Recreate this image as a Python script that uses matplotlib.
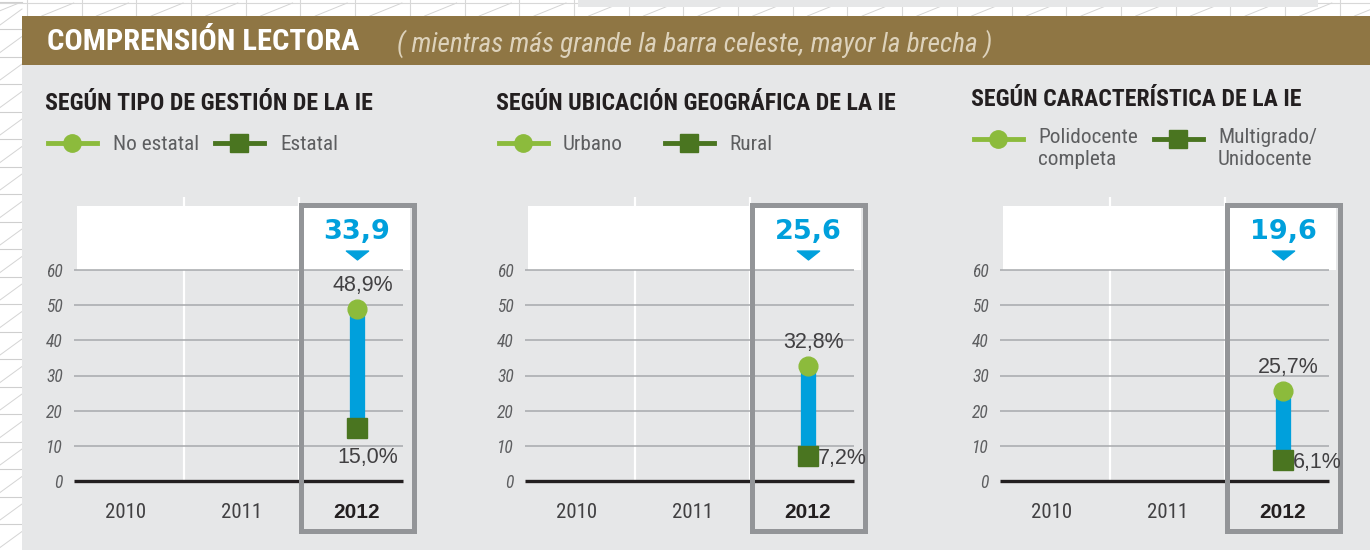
import matplotlib
matplotlib.use('Agg')
import matplotlib.pyplot as plt
from matplotlib.patches import Rectangle
from matplotlib.lines import Line2D
from matplotlib.path import Path
from matplotlib import font_manager as fm

# ---------------- data ----------------
years = ['2010', '2011', '2012']
header_title = 'COMPRENSIÓN LECTORA'
header_sub = '( mientras más grande la barra celeste, mayor la brecha )'
panel_titles = ['SEGÚN TIPO DE GESTIÓN DE LA IE',
                'SEGÚN UBICACIÓN GEOGRÁFICA DE LA IE',
                'SEGÚN CARACTERÍSTICA DE LA IE']
high_names = ['No estatal', 'Urbano', 'Polidocente\ncompleta']
low_names = ['Estatal', 'Rural', 'Multigrado/\nUnidocente']
high_2012 = [48.9, 32.8, 25.7]
low_2012 = [15.0, 7.2, 6.1]
gap_2012 = [33.9, 25.6, 19.6]
yticks = [0, 10, 20, 30, 40, 50, 60]

# ---------------- fonts ----------------
_entries = fm.fontManager.ttflist
_names = {f.name for f in _entries}
_dejavu_cond = any(f.name == 'DejaVu Sans' and 'Condensed' in f.fname for f in _entries)
if 'Roboto Condensed' in _names:
    NARROW = dict(family=['Roboto Condensed', 'DejaVu Sans'])
    NSCALE = 0.97
elif 'Liberation Sans Narrow' in _names:
    NARROW = dict(family=['Liberation Sans Narrow', 'DejaVu Sans'])
    NSCALE = 1.0
elif _dejavu_cond:
    NARROW = dict(family=['DejaVu Sans'], stretch='condensed')
    NSCALE = 0.86
else:
    NARROW = dict(family=['Liberation Sans', 'DejaVu Sans'])
    NSCALE = 0.84


def nfont(size, **kw):
    d = dict(NARROW)
    d['fontsize'] = size * NSCALE
    d.update(kw)
    return d


def nprops(size, **kw):
    d = {('size' if k == 'fontsize' else k): v for k, v in nfont(size).items()}
    d.update(kw)
    return fm.FontProperties(**d)


SANS = ['Liberation Sans', 'DejaVu Sans']

# ---------------- style ----------------
W, H = 1370, 550
C_BG = '#e6e7e8'
C_BROWN = '#8f7644'
C_BLUE = '#00a0dc'
C_LGREEN = '#8cbb3c'
C_DGREEN = '#4a7520'
C_TXT = '#231f20'
C_GRAY = '#5d5e60'
C_GRID = '#a7a9ac'
C_FRAME = '#939598'

fig = plt.figure(figsize=(W / 100, H / 100), dpi=100)
bg = fig.add_axes([0, 0, 1, 1])
bg.set_xlim(0, W)
bg.set_ylim(H, 0)
bg.axis('off')

# background paper pattern
bg.add_patch(Rectangle((0, 0), W, H, facecolor='white', edgecolor='none', zorder=0))
bg.add_patch(Rectangle((578, 0), 1318 - 578, 7, facecolor=C_BG, edgecolor='none', zorder=0.5))
bg.plot([0, W], [2.5, 2.5], color='#d8d8d8', lw=0.8, zorder=0.4)
xs = [27 + 54.7 * k for k in range(26)]
for x in xs:
    bg.plot([x, x], [0, 16], color='#d8d8d8', lw=0.8, zorder=0.4)
    bg.plot([x - 40, x - 8], [16, 3], color='#d4d4d4', lw=0.7, zorder=0.4)
ys = [84 + 27.5 * k for k in range(-3, 18)]
for y in ys:
    bg.plot([0, 22], [y, y], color='#cfcfcf', lw=0.8, zorder=0.4)
    bg.plot([0, 22], [y - 4, y - 20], color='#d4d4d4', lw=0.7, zorder=0.4)

bg.add_patch(Rectangle((22, 16), W - 22, H - 16, facecolor=C_BG, edgecolor='none', zorder=1))
bg.add_patch(Rectangle((22, 16), W - 22, 49, facecolor=C_BROWN, edgecolor='none', zorder=2))
bg.text(47, 42, header_title, color='white', fontweight='bold',
        va='center', ha='left', zorder=3, **nfont(22.6))
bg.text(397, 44, header_sub, color='#ddd2bb', style='italic',
        va='center', ha='left', zorder=3, **nfont(20.2))

offsets = [0, 451, 926]
title_y = [103, 103, 99]
legend_y = [143, 143, 139]
legend_layout = [  # (circle line x0, text x, square line x0, text x)
    (48, 113, 215, 280),
    (499, 563, 665, 729),
    (974, 1038, 1154, 1218),
]
for i in range(3):
    dx = offsets[i]
    bg.text(45 + dx, title_y[i], panel_titles[i], color=C_TXT,
            fontweight='bold', va='center', ha='left', zorder=3, **nfont(17.6))
    ly = legend_y[i]
    cx0, ctx, sx0, stx = legend_layout[i]
    bg.add_line(Line2D([cx0, cx0 + 49], [ly, ly], color=C_LGREEN, lw=3.5, zorder=3))
    bg.add_line(Line2D([cx0 + 24.5], [ly], marker='o', ms=12.5, color=C_LGREEN,
                       lw=0, zorder=4))
    bg.add_line(Line2D([sx0, sx0 + 49], [ly, ly], color=C_DGREEN, lw=3.5, zorder=3))
    bg.add_line(Line2D([sx0 + 24.5], [ly], marker='s', ms=13, color=C_DGREEN,
                       lw=0, zorder=4))
    nl = high_names[i].count('\n')
    ty = (ly + 9.5) if nl else (ly + 1)
    bg.text(ctx, ty, high_names[i], color=C_GRAY, va='center', ha='left',
            linespacing=1.22, zorder=3, **nfont(15.8))
    bg.text(stx, ty, low_names[i], color=C_GRAY, va='center', ha='left',
            linespacing=1.22, zorder=3, **nfont(15.8))

# ---------------- data panels ----------------
PX_X = 115.5      # pixels per category
PX_Y = 211 / 60   # pixels per unit
Y0 = 481          # pixel row of value 0
X2010 = 126       # pixel column of first category (panel 1)
AX_L, AX_R, AX_T = 74, 403, 196
tri = Path([(-1, 0.4), (1, 0.4), (0, -0.4), (-1, 0.4)],
           [Path.MOVETO, Path.LINETO, Path.LINETO, Path.CLOSEPOLY])
low_label_side = ['below', 'right', 'right']


def px2x(p):
    return (p - X2010) / PX_X


def fmt(v):
    return f'{v:.1f}'.replace('.', ',')


for i in range(3):
    dx = offsets[i]
    ax = fig.add_axes([(AX_L + dx) / W, (H - Y0) / H, (AX_R - AX_L) / W, (Y0 - AX_T) / H])
    ax.set_zorder(5)
    ax.patch.set_visible(False)
    ax.set_xlim(px2x(AX_L), px2x(AX_R))
    ax.set_ylim(0, (Y0 - AX_T) / PX_Y)
    for s in ax.spines.values():
        s.set_visible(False)

    # white header box above the plot
    ax.add_patch(Rectangle((px2x(77), 60), px2x(410) - px2x(77), 18.2,
                           facecolor='white', edgecolor='none', zorder=0.5,
                           clip_on=False))
    # column separators
    ax.vlines([0.5, 1.5], 0, 80.7, color='white', lw=1.6, zorder=0.6)
    # grid
    x0, x1 = ax.get_xlim()
    ax.hlines(yticks[1:], x0, x1, color=C_GRID, lw=1.1, zorder=1)
    ax.hlines(0, x0, x1, color=C_TXT, lw=2.4, zorder=2, clip_on=False)

    ax.set_yticks(yticks)
    ax.set_yticklabels([str(v) for v in yticks])
    for t in ax.get_yticklabels():
        t.set_fontproperties(nprops(13, style='italic'))
        t.set_color(C_GRAY)
    ax.set_xticks(range(len(years)))
    ax.set_xticklabels(years)
    xl = ax.get_xticklabels()
    for t in xl[:-1]:
        t.set_fontproperties(nprops(15.5))
        t.set_color('#414042')
    xl[-1].set_fontproperties(fm.FontProperties(family=SANS, weight='bold', size=15))
    xl[-1].set_color(C_TXT)
    ax.tick_params(axis='both', length=0)
    ax.tick_params(axis='y', pad=8)
    ax.tick_params(axis='x', pad=16)

    # highlight frame around 2012
    fy0 = -(531 - Y0) / PX_Y
    fy1 = (Y0 - 205) / PX_Y
    ax.add_patch(Rectangle((px2x(301), fy0), px2x(413.5) - px2x(301), fy1 - fy0,
                           facecolor='none', edgecolor=C_FRAME, lw=3.6,
                           zorder=3, clip_on=False))

    xi = 2
    hi, lo, gap = high_2012[i], low_2012[i], gap_2012[i]
    ax.vlines(xi, lo, hi, color=C_BLUE, lw=11, zorder=4, capstyle='butt')
    ax.plot([xi], [hi], marker='o', ms=13.5, color=C_LGREEN, lw=0, zorder=6,
            clip_on=False)
    ax.plot([xi], [lo], marker='s', ms=14.2, color=C_DGREEN, lw=0, zorder=5,
            clip_on=False)

    ax.annotate(fmt(gap), (xi, (Y0 - 232) / PX_Y), ha='center', va='center',
                fontsize=19.5, fontweight='bold', family=['DejaVu Sans'],
                color=C_BLUE, zorder=7, annotation_clip=False)
    ax.plot([xi], [(Y0 - 255) / PX_Y], marker=tri, ms=16, color=C_BLUE, lw=0,
            zorder=7, clip_on=False)
    ax.annotate(fmt(hi) + '%', (xi, hi), xytext=(4, 17), textcoords='offset points',
                ha='center', va='center', fontsize=15.5, family=SANS,
                color='#414042', zorder=7, annotation_clip=False)
    if low_label_side[i] == 'below':
        ax.annotate(fmt(lo) + '%', (xi, lo), xytext=(8, -21), textcoords='offset points',
                    ha='center', va='center', fontsize=15.5, family=SANS,
                    color='#414042', zorder=7, annotation_clip=False)
    else:
        ax.annotate(fmt(lo) + '%', (xi, lo), xytext=(7, -2), textcoords='offset points',
                    ha='left', va='center', fontsize=15.5, family=SANS,
                    color='#414042', zorder=7, annotation_clip=False)

fig.savefig('out.png', dpi=100)
